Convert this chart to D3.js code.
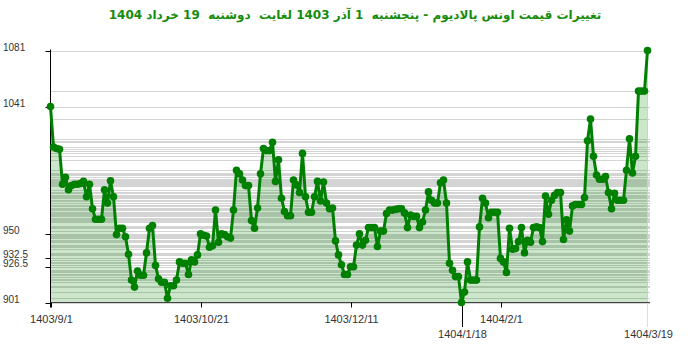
<!DOCTYPE html>
<html>
<head>
<meta charset="utf-8">
<script src="https://cdn.jsdelivr.net/npm/d3@7"></script>
<style>
    body { margin: 0; background: #ffffff; }
    svg { display: block; }
</style>
</head>
<body>
<svg id="price-chart"></svg>
<script>
// Chart title (persian)
const chart_title = "تغییرات قیمت اونس پالادیوم - پنجشنبه  1 آذر 1403 لغایت  دوشنبه  19 خرداد 1404";

// Daily palladium ounce prices, one value per day from 1403/9/1 to 1404/3/19
const price_values = [
    1041, 1012, 1011, 1010.5, 985.5, 990.5, 981.5, 984.5, 985.5, 985.5,
    986, 987.5, 976.5, 985.5, 968, 960.5, 960.5, 960.5, 981.5, 972,
    988, 976.5, 949.5, 954, 954, 948, 935.5, 917, 912, 923.5,
    920.5, 920.5, 936.5, 954, 956, 927.5, 918, 915.5, 915.5, 904,
    913, 913, 917, 930, 929, 929, 921, 931.5, 930, 935,
    950, 949, 948.5, 940.5, 941.5, 967, 944, 950, 949.5, 948,
    947, 967, 995.5, 993, 988.5, 984.5, 984.5, 959.5, 954, 968.5,
    993, 1011, 1009.5, 1009.5, 1015.5, 987.5, 1003, 975.5, 966, 963,
    963, 988.5, 985, 979.5, 1007.5, 976.5, 965.5, 965.5, 976.5, 987.5,
    973.5, 987, 972, 968, 968.5, 945, 935, 928, 921, 921,
    926.5, 926.5, 942, 950, 942, 945.5, 954.5, 954.5, 954.5, 941,
    952, 952, 964.5, 967, 967, 967.5, 968, 968, 965, 954.5,
    963.5, 962.5, 962.5, 954.5, 958.5, 967, 980, 974, 972, 972,
    986.5, 988.5, 972, 929, 924, 919.5, 919.5, 901, 908.5, 930,
    917, 917, 917, 955, 975.5, 972, 961.5, 965.5, 965.5, 965.5,
    932.5, 930, 922.5, 954, 939, 939.5, 944.5, 954.5, 936.5, 945.5,
    944, 954.5, 955, 954.5, 944.5, 977, 964, 974, 977.5, 979.5,
    979.5, 946, 960, 952, 970, 971, 971, 971, 976, 1016.5,
    1032, 1005.5, 992, 989, 989, 991, 979.5, 968, 979, 974,
    974, 974, 995.5, 1018, 993.5, 1005.5, 1052, 1052, 1052, 1081
];

// Y-axis labelled values
const y_tick_values = [1081, 1041, 950, 932.5, 926.5, 901];

// X-axis labelled days (index in the series) and their dates
const x_tick_index = [0, 50, 100, 137, 150, 199];
const x_tick_labels = ["1403/9/1", "1403/10/21", "1403/12/11", "1404/1/18", "1404/2/1", "1404/3/19"];
// Dates that are pushed on a second label row
const x_tick_lowered = ["1404/1/18", "1404/3/19"];

// Configure the dimensions of the chart
const chart_width = 700, chart_height = 352;
const plot_left = 50.5, plot_right = 647.5, grid_right = 650;
const plot_top = 50.5, plot_bottom = 302.5;

// Create the scales for the X-axis (day index) and Y-axis (price)
const x_scale = d3.scaleLinear()
    .domain([0, price_values.length - 1])
    .range([plot_left, plot_right]);
const y_scale = d3.scaleLinear()
    .domain([d3.min(price_values), d3.max(price_values)])
    .range([plot_bottom, plot_top]);

// Create the chart container
const svg = d3.select("#price-chart")
    .attr("width", chart_width)
    .attr("height", chart_height)
    .style("font-family", "'Liberation Sans', Arial, sans-serif");

// Add the title on top of the chart
svg.append("text")
    .attr("x", 355)
    .attr("y", 19)
    .attr("text-anchor", "middle")
    .attr("direction", "rtl")
    .style("white-space", "pre")
    .style("font-family", "'DejaVu Sans', sans-serif")
    .style("font-weight", "bold")
    .style("font-size", "12px")
    .attr("fill", "#168c0c")
    .text(chart_title);

// Add one horizontal grid line for every price value of the series
svg.append("g")
    .attr("class", "grid")
    .selectAll("line")
    .data(Array.from(new Set(price_values)))
    .enter()
    .append("line")
    .attr("x1", plot_left)
    .attr("x2", grid_right)
    .attr("y1", d => Math.round(y_scale(d)) + 0.5)
    .attr("y2", d => Math.round(y_scale(d)) + 0.5)
    .attr("stroke", "#d4d4d4")
    .attr("stroke-width", 1);

// Add the light vertical line at the last day
svg.append("line")
    .attr("x1", x_scale(price_values.length - 1))
    .attr("x2", x_scale(price_values.length - 1))
    .attr("y1", plot_top)
    .attr("y2", 327)
    .attr("stroke", "#dddddd")
    .attr("stroke-width", 1);

// Add the area under the price line
const price_area = d3.area()
    .x((d, i) => x_scale(i))
    .y0(plot_bottom)
    .y1(d => y_scale(d));
svg.append("path")
    .datum(price_values)
    .attr("d", price_area)
    .attr("fill", "rgba(0, 128, 0, 0.2)");

// Add the Y-axis with its labelled ticks
const y_axis = svg.append("g").attr("class", "y-axis");
y_axis.append("line")
    .attr("x1", plot_left).attr("x2", plot_left)
    .attr("y1", plot_top - 1).attr("y2", plot_bottom + 5)
    .attr("stroke", "#000000");
y_axis.selectAll(".tick")
    .data(y_tick_values)
    .enter()
    .append("line")
    .attr("x1", plot_left - 5)
    .attr("x2", plot_left)
    .attr("y1", d => Math.round(y_scale(d)) + 0.5)
    .attr("y2", d => Math.round(y_scale(d)) + 0.5)
    .attr("stroke", "#000000");
y_axis.selectAll("text")
    .data(y_tick_values)
    .enter()
    .append("text")
    .attr("x", 3)
    .attr("y", d => y_scale(d))
    .style("font-size", "10px")
    .attr("fill", "#333333")
    .text(d => d);

// Add the X-axis with its labelled ticks
const x_axis = svg.append("g").attr("class", "x-axis");
x_axis.append("line")
    .attr("x1", plot_left).attr("x2", grid_right)
    .attr("y1", plot_bottom).attr("y2", plot_bottom)
    .attr("stroke", "#444444");
const x_ticks = x_axis.selectAll(".tick")
    .data(x_tick_index)
    .enter()
    .append("g")
    .attr("class", "tick")
    .attr("transform", d => `translate(${Math.round(x_scale(d)) + 0.5}, 0)`);
x_ticks.filter((d, i) => i < x_tick_index.length - 1)
    .append("line")
    .attr("y1", plot_bottom)
    .attr("y2", (d, i) => x_tick_lowered.includes(x_tick_labels[i]) ? 327 : plot_bottom + 5)
    .attr("stroke", "#000000");
x_ticks.append("text")
    .attr("y", (d, i) => x_tick_lowered.includes(x_tick_labels[i]) ? 338 : 323)
    .attr("text-anchor", "middle")
    .style("font-size", "11px")
    .attr("fill", "#333333")
    .text((d, i) => x_tick_labels[i]);

// Add the price line
const price_line = d3.line()
    .x((d, i) => x_scale(i))
    .y(d => y_scale(d));
svg.append("path")
    .datum(price_values)
    .attr("d", price_line)
    .attr("fill", "none")
    .attr("stroke", "#008000")
    .attr("stroke-width", 3)
    .attr("stroke-linejoin", "round");

// Add one marker for every daily price
svg.append("g")
    .selectAll("circle")
    .data(price_values)
    .enter()
    .append("circle")
    .attr("cx", (d, i) => x_scale(i))
    .attr("cy", d => y_scale(d))
    .attr("r", 3.8)
    .attr("fill", "#008000");
</script>
</body>
</html>
